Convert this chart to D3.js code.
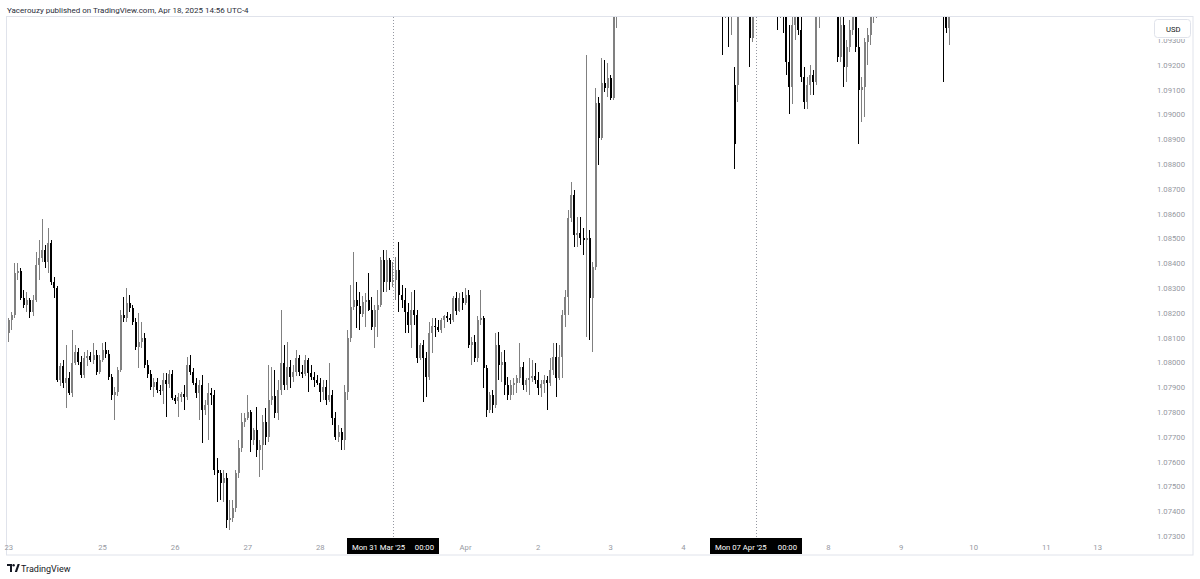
<!DOCTYPE html>
<html>
<head>
<meta charset="utf-8">
<script src="https://cdn.jsdelivr.net/npm/d3@7/dist/d3.min.js"></script>
<style>
  body { margin: 0; background: #fff; }
  svg { display: block; font-family: Roboto, "Liberation Sans", sans-serif; }
</style>
</head>
<body>
<svg id="chart"></svg>
<script>
// EURUSD 1h candles, Sun 23 Mar 17:00 onward (index = hourly bar, weekends removed)
const opens = [
  1.08119,1.08171,1.08191,1.08360,1.08368,1.08260,1.08231,1.08252,1.08203,1.08252,
  1.08393,1.08421,1.08453,1.08405,1.08481,1.08324,1.08300,1.07929,1.07985,1.07917,
  1.07937,1.07877,1.07998,1.08042,1.08002,1.07949,1.08018,1.08026,1.08010,1.08030,
  1.07961,1.08010,1.08050,1.08034,1.07941,1.07869,1.07881,1.07969,1.08191,1.08179,
  1.08239,1.08219,1.08163,1.08062,1.08082,1.08098,1.07989,1.07953,1.07901,1.07921,
  1.07889,1.07885,1.07929,1.07913,1.07953,1.07856,1.07844,1.07860,1.07873,1.07860,
  1.07989,1.07961,1.07917,1.07877,1.07909,1.07808,1.07828,1.07877,1.07869,1.07566,
  1.07554,1.07514,1.07534,1.07365,1.07373,1.07413,1.07554,1.07655,1.07760,1.07776,
  1.07800,1.07687,1.07727,1.07647,1.07667,1.07760,1.07699,1.07848,1.07864,1.07796,
  1.07889,1.07998,1.07909,1.07981,1.07941,1.07961,1.08018,1.07961,1.07953,1.08010,
  1.07957,1.07941,1.07929,1.07917,1.07881,1.07901,1.07848,1.07869,1.07776,1.07699,
  1.07719,1.07687,1.07881,1.08098,1.08223,1.08252,1.08227,1.08195,1.08243,1.08252,
  1.08211,1.08143,1.08211,1.08231,1.08413,1.08324,1.08413,1.08324,1.08332,1.08373,
  1.08272,1.08252,1.08203,1.08151,1.08211,1.08191,1.08018,1.08070,1.08018,1.07941,
  1.08119,1.08147,1.08143,1.08131,1.08171,1.08187,1.08179,1.08171,1.08260,1.08207,
  1.08260,1.08239,1.08272,1.08070,1.08082,1.08018,1.08171,1.08179,1.07977,1.07808,
  1.07869,1.07828,1.08070,1.07989,1.08002,1.07909,1.07869,1.07909,1.07917,1.07937,
  1.07981,1.07909,1.07929,1.07937,1.07945,1.07929,1.07897,1.07913,1.07929,1.07917,
  1.07969,1.08022,1.07937,1.08022,1.08191,1.08264,1.08582,1.08675,1.08514,1.08522,
  1.08502,1.08493,1.08500,1.08260,1.08385,1.09046,1.08905,1.09126,1.09106,1.09147,
  1.09066,1.09450,1.09700,1.10200,1.10450,1.10800,1.11100,1.10850,1.10700,1.10800,
  1.10750,1.10600,1.10700,1.10550,1.10400,1.10500,1.10600,1.10500,1.10480,1.10520,
  1.10550,1.10500,1.10460,1.10500,1.10450,1.10400,1.10450,1.10650,1.10800,1.10950,
  1.10700,1.10400,1.10200,1.10050,1.09900,1.09750,1.09600,1.09520,1.09580,1.09500,
  1.09120,1.09120,1.09800,1.10050,1.09950,1.09650,1.09310,1.09620,1.09750,1.09850,
  1.09800,1.09700,1.09750,1.09650,1.09550,1.09500,1.09550,1.09500,1.09210,1.09110,
  1.09360,1.09500,1.09340,1.09150,1.09050,1.09120,1.09160,1.09130,1.09450,1.09550,
  1.09650,1.09800,1.09700,1.09600,1.09500,1.09230,1.09360,1.09190,1.09270,1.09340,
  1.09450,1.09270,1.09100,1.09110,1.09290,1.09320,1.09400,1.09450,1.09500,1.09600,
  1.09680,1.09620,1.09550,1.09600,1.09700,1.09750,1.09800,1.09750,1.09650,1.09600,
  1.09550,1.09580,1.09620,1.09680,1.09720,1.09650,1.09580,1.09520,1.09580,1.09550,
  1.09500,1.09350
];
const highs = [
  1.08179,1.08203,1.08401,1.08401,1.08381,1.08292,1.08284,1.08260,1.08272,1.08445,
  1.08493,1.08578,1.08473,1.08542,1.08493,1.08344,1.08308,1.07998,1.08010,1.08070,
  1.07961,1.08131,1.08070,1.08058,1.08026,1.08042,1.08050,1.08042,1.08078,1.08050,
  1.08030,1.08078,1.08082,1.08050,1.07953,1.07901,1.07981,1.08211,1.08264,1.08300,
  1.08272,1.08231,1.08179,1.08199,1.08163,1.08119,1.08010,1.07969,1.07937,1.07937,
  1.07909,1.07957,1.07957,1.07969,1.07969,1.07869,1.07877,1.07881,1.07909,1.08022,
  1.08030,1.07977,1.07937,1.07929,1.07949,1.07848,1.07917,1.07897,1.07889,1.07614,
  1.07566,1.07566,1.07554,1.07445,1.07445,1.07566,1.07687,1.07796,1.07796,1.07869,
  1.07808,1.07735,1.07820,1.07687,1.07788,1.07816,1.07989,1.07981,1.07969,1.07929,
  1.08211,1.08070,1.08082,1.08010,1.07989,1.08050,1.08030,1.07989,1.08030,1.08018,
  1.07989,1.07961,1.07949,1.07937,1.07929,1.07929,1.07998,1.07889,1.07800,1.07748,
  1.07735,1.07909,1.08131,1.08312,1.08445,1.08324,1.08284,1.08268,1.08280,1.08360,
  1.08264,1.08231,1.08292,1.08425,1.08453,1.08453,1.08421,1.08405,1.08425,1.08485,
  1.08312,1.08300,1.08239,1.08284,1.08292,1.08211,1.08078,1.08090,1.08042,1.08163,
  1.08179,1.08179,1.08171,1.08179,1.08191,1.08203,1.08195,1.08268,1.08284,1.08280,
  1.08284,1.08300,1.08292,1.08102,1.08110,1.08187,1.08292,1.08187,1.07989,1.07881,
  1.07889,1.08119,1.08123,1.08042,1.08050,1.07941,1.07929,1.07937,1.07949,1.08078,
  1.08002,1.07937,1.08018,1.08010,1.07998,1.07961,1.07929,1.07949,1.07945,1.08018,
  1.08078,1.08078,1.08070,1.08211,1.08292,1.08614,1.08727,1.08695,1.08586,1.08586,
  1.08542,1.09239,1.08534,1.08405,1.09106,1.09070,1.09227,1.09219,1.09207,1.09159,
  1.09600,1.09750,1.10300,1.10600,1.10900,1.11440,1.11250,1.11000,1.10900,1.10950,
  1.10850,1.10750,1.10800,1.10650,1.10600,1.10700,1.10720,1.10600,1.10580,1.10600,
  1.10620,1.10580,1.10550,1.10600,1.10550,1.10500,1.10700,1.10900,1.11070,1.11000,
  1.10750,1.10500,1.10350,1.10150,1.10000,1.09900,1.09700,1.09650,1.09680,1.09620,
  1.09190,1.09900,1.10200,1.10300,1.10000,1.09750,1.09700,1.09850,1.09950,1.10000,
  1.09900,1.09850,1.09900,1.09750,1.09650,1.09600,1.09620,1.09580,1.09360,1.09450,
  1.09550,1.09550,1.09400,1.09190,1.09150,1.09200,1.09180,1.09500,1.09600,1.09750,
  1.09900,1.09950,1.09800,1.09700,1.09580,1.09450,1.09400,1.09300,1.09380,1.09500,
  1.09500,1.09350,1.09150,1.09310,1.09350,1.09450,1.09500,1.09550,1.09650,1.09750,
  1.09800,1.09720,1.09650,1.09750,1.09850,1.09900,1.09920,1.09850,1.09750,1.09700,
  1.09650,1.09680,1.09750,1.09800,1.09850,1.09750,1.09680,1.09620,1.09680,1.09620,
  1.09550,1.09480
];
const lows = [
  1.08082,1.08131,1.08179,1.08332,1.08252,1.08219,1.08203,1.08179,1.08187,1.08243,
  1.08332,1.08405,1.08381,1.08360,1.08312,1.08260,1.07921,1.07905,1.07897,1.07816,
  1.07869,1.07860,1.07989,1.07989,1.07937,1.07937,1.07985,1.08002,1.07994,1.07949,
  1.07953,1.08002,1.08018,1.07929,1.07848,1.07768,1.07864,1.07961,1.08163,1.08163,
  1.08203,1.08151,1.08050,1.07977,1.08058,1.07977,1.07937,1.07889,1.07860,1.07877,
  1.07869,1.07832,1.07780,1.07897,1.07848,1.07832,1.07780,1.07840,1.07808,1.07848,
  1.07949,1.07909,1.07856,1.07768,1.07675,1.07788,1.07687,1.07828,1.07546,1.07437,
  1.07445,1.07437,1.07332,1.07324,1.07356,1.07397,1.07534,1.07639,1.07739,1.07768,
  1.07639,1.07667,1.07619,1.07538,1.07566,1.07667,1.07679,1.07828,1.07776,1.07768,
  1.07869,1.07889,1.07889,1.07897,1.07921,1.07945,1.07945,1.07937,1.07945,1.07881,
  1.07929,1.07901,1.07909,1.07840,1.07848,1.07828,1.07840,1.07748,1.07687,1.07679,
  1.07647,1.07647,1.07848,1.08082,1.08211,1.08139,1.08131,1.08183,1.08143,1.08207,
  1.08131,1.08058,1.08102,1.08223,1.08284,1.08284,1.08292,1.08304,1.08252,1.08203,
  1.08219,1.08119,1.08119,1.08058,1.08151,1.07998,1.08010,1.07840,1.07860,1.07929,
  1.08038,1.08102,1.08123,1.08119,1.08139,1.08163,1.08155,1.08163,1.08191,1.08203,
  1.08211,1.08231,1.08058,1.07989,1.08002,1.08002,1.08151,1.07897,1.07780,1.07796,
  1.07796,1.07816,1.07929,1.07921,1.07869,1.07848,1.07848,1.07869,1.07877,1.07917,
  1.07889,1.07881,1.07869,1.07921,1.07913,1.07869,1.07860,1.07877,1.07808,1.07905,
  1.07949,1.07860,1.07929,1.07937,1.08143,1.08191,1.08566,1.08465,1.08465,1.08473,
  1.08433,1.08102,1.08090,1.08042,1.08373,1.08796,1.08897,1.09090,1.09070,1.09058,
  1.09058,1.09350,1.09650,1.10050,1.10400,1.10700,1.10750,1.10600,1.10500,1.10650,
  1.10550,1.10450,1.10500,1.10300,1.10250,1.10400,1.10450,1.10400,1.10400,1.10450,
  1.10480,1.10420,1.10400,1.10400,1.10350,1.10300,1.10400,1.10550,1.10700,1.10600,
  1.10300,1.10100,1.09950,1.09800,1.09650,1.09500,1.09240,1.09390,1.09270,1.09320,
  1.08780,1.09050,1.09700,1.09850,1.09550,1.09190,1.09290,1.09500,1.09600,1.09700,
  1.09600,1.09550,1.09600,1.09450,1.09340,1.09390,1.09330,1.09160,1.09000,1.09040,
  1.09300,1.09320,1.09130,1.09020,1.09020,1.09080,1.09080,1.09120,1.09350,1.09450,
  1.09550,1.09650,1.09500,1.09450,1.09210,1.09210,1.09110,1.09130,1.09250,1.09320,
  1.09250,1.08880,1.08970,1.08990,1.09200,1.09280,1.09370,1.09390,1.09420,1.09500,
  1.09550,1.09480,1.09450,1.09500,1.09600,1.09650,1.09680,1.09600,1.09520,1.09480,
  1.09450,1.09480,1.09520,1.09580,1.09620,1.09500,1.09460,1.09440,1.09480,1.09130,
  1.09330,1.09280
];
const closes = [
  1.08171,1.08191,1.08360,1.08368,1.08260,1.08231,1.08252,1.08203,1.08252,1.08393,
  1.08421,1.08453,1.08405,1.08481,1.08324,1.08300,1.07929,1.07985,1.07917,1.07937,
  1.07877,1.07998,1.08042,1.08002,1.07949,1.08018,1.08026,1.08010,1.08030,1.07961,
  1.08010,1.08050,1.08034,1.07941,1.07869,1.07881,1.07969,1.08191,1.08179,1.08239,
  1.08219,1.08163,1.08062,1.08082,1.08098,1.07989,1.07953,1.07901,1.07921,1.07889,
  1.07885,1.07929,1.07913,1.07953,1.07856,1.07844,1.07860,1.07873,1.07860,1.07989,
  1.07961,1.07917,1.07877,1.07909,1.07808,1.07828,1.07877,1.07869,1.07566,1.07554,
  1.07514,1.07534,1.07365,1.07373,1.07413,1.07554,1.07655,1.07760,1.07776,1.07800,
  1.07687,1.07727,1.07647,1.07667,1.07760,1.07699,1.07848,1.07864,1.07796,1.07889,
  1.07998,1.07909,1.07981,1.07941,1.07961,1.08018,1.07961,1.07953,1.08010,1.07957,
  1.07941,1.07929,1.07917,1.07881,1.07901,1.07848,1.07869,1.07776,1.07699,1.07719,
  1.07687,1.07881,1.08098,1.08223,1.08252,1.08227,1.08195,1.08243,1.08252,1.08211,
  1.08143,1.08211,1.08231,1.08413,1.08324,1.08413,1.08324,1.08332,1.08373,1.08272,
  1.08252,1.08203,1.08151,1.08211,1.08191,1.08018,1.08070,1.08018,1.07941,1.08119,
  1.08147,1.08143,1.08131,1.08171,1.08187,1.08179,1.08171,1.08260,1.08207,1.08260,
  1.08239,1.08272,1.08070,1.08082,1.08018,1.08171,1.08179,1.07977,1.07808,1.07869,
  1.07828,1.08070,1.07989,1.08002,1.07909,1.07869,1.07909,1.07917,1.07937,1.07981,
  1.07909,1.07929,1.07937,1.07945,1.07929,1.07897,1.07913,1.07929,1.07917,1.07969,
  1.08022,1.07937,1.08022,1.08191,1.08264,1.08582,1.08675,1.08514,1.08522,1.08502,
  1.08493,1.08500,1.08260,1.08385,1.09046,1.08905,1.09126,1.09106,1.09147,1.09066,
  1.09450,1.09700,1.10200,1.10450,1.10800,1.11100,1.10850,1.10700,1.10800,1.10750,
  1.10600,1.10700,1.10550,1.10400,1.10500,1.10600,1.10500,1.10480,1.10520,1.10550,
  1.10500,1.10460,1.10500,1.10450,1.10400,1.10450,1.10650,1.10800,1.10950,1.10700,
  1.10400,1.10200,1.10050,1.09900,1.09750,1.09600,1.09520,1.09580,1.09500,1.09580,
  1.08880,1.09800,1.10050,1.09950,1.09650,1.09310,1.09620,1.09750,1.09850,1.09800,
  1.09700,1.09750,1.09650,1.09550,1.09500,1.09550,1.09500,1.09210,1.09110,1.09360,
  1.09500,1.09340,1.09150,1.09050,1.09120,1.09160,1.09130,1.09450,1.09550,1.09650,
  1.09800,1.09700,1.09600,1.09500,1.09230,1.09360,1.09190,1.09270,1.09340,1.09450,
  1.09270,1.09100,1.09110,1.09290,1.09320,1.09400,1.09450,1.09500,1.09600,1.09680,
  1.09620,1.09550,1.09600,1.09700,1.09750,1.09800,1.09750,1.09650,1.09600,1.09550,
  1.09580,1.09620,1.09680,1.09720,1.09650,1.09580,1.09520,1.09580,1.09550,1.09500,
  1.09350,1.09450
];

// time axis: bar index of each day label
const dayTickIndex = [0, 31, 55, 79, 103, 151, 175, 199, 223, 271, 295, 319, 343, 360];
const dayTickLabels = ["23", "25", "26", "27", "28", "Apr", "2", "3", "4", "8", "9", "10", "11", "13"];
// highlighted session starts (dotted lines + black labels)
const markerIndex = [127, 247];
const markerDates = ["Mon 31 Mar '25", "Mon 07 Apr '25"];
const markerTimes = ["00:00", "00:00"];
// price scale labels
const priceTicks = [1.073, 1.074, 1.075, 1.076, 1.077, 1.078, 1.079, 1.080, 1.081, 1.082,
  1.083, 1.084, 1.085, 1.086, 1.087, 1.088, 1.089, 1.090, 1.091, 1.092, 1.093];

const width = 1200, height = 579;
const pane = { left: 7, right: 1147, top: 17, bottom: 540 };

const svg = d3.select("#chart").attr("width", width).attr("height", height);

const x = d3.scaleLinear().domain([-0.6, 376.3]).range([pane.left, pane.right]);
const y = d3.scaleLinear().domain([1.073, 1.092]).range([536, 64.8]);

// header
svg.append("text")
  .attr("x", 7).attr("y", 13)
  .attr("font-size", "8px").attr("fill", "#2a2e39")
  .text("Yacerouzy published on TradingView.com, Apr 18, 2025 14:56 UTC-4");

// outer frame
svg.append("rect")
  .attr("x", 6.5).attr("y", 16.5)
  .attr("width", 1193 - 6.5).attr("height", 555 - 16.5)
  .attr("fill", "none").attr("stroke", "#e0e3eb").attr("stroke-width", 1);

svg.append("defs").append("clipPath").attr("id", "pane-clip")
  .append("rect")
  .attr("x", pane.left).attr("y", pane.top)
  .attr("width", pane.right - pane.left).attr("height", pane.bottom - pane.top);

// dotted session lines
svg.append("g").selectAll("line")
  .data(markerIndex)
  .join("line")
  .attr("x1", d => Math.round(x(d)) + 0.5).attr("x2", d => Math.round(x(d)) + 0.5)
  .attr("y1", pane.top).attr("y2", pane.bottom)
  .attr("stroke", "#9598a1").attr("stroke-width", 1)
  .attr("stroke-dasharray", "1,2");

// candles
const idx = d3.range(opens.length);
const upColor = "#808080", downColor = "#000000";
const candles = svg.append("g")
  .attr("clip-path", "url(#pane-clip)")
  .attr("shape-rendering", "crispEdges");

candles.selectAll("rect.wick")
  .data(idx)
  .join("rect")
  .attr("class", "wick")
  .attr("x", i => Math.round(x(i) - 0.5))
  .attr("width", 1)
  .attr("y", i => y(highs[i]))
  .attr("height", i => Math.max(1, y(lows[i]) - y(highs[i])))
  .attr("fill", i => closes[i] >= opens[i] ? upColor : downColor);

candles.selectAll("rect.body")
  .data(idx)
  .join("rect")
  .attr("class", "body")
  .attr("x", i => Math.round(x(i) - 1))
  .attr("width", 2)
  .attr("y", i => y(Math.max(opens[i], closes[i])))
  .attr("height", i => Math.max(1, Math.abs(y(opens[i]) - y(closes[i]))))
  .attr("fill", i => closes[i] >= opens[i] ? upColor : downColor);

// price axis
const yAxis = d3.axisRight(y)
  .tickValues(priceTicks)
  .tickFormat(d3.format(".5f"))
  .tickSize(0)
  .tickPadding(0);

const yAxisG = svg.append("g")
  .attr("transform", `translate(1157,0)`)
  .call(yAxis);
yAxisG.select(".domain").remove();
yAxisG.selectAll("text")
  .attr("font-size", "7.7px")
  .attr("font-family", "Roboto, sans-serif")
  .attr("fill", "#9598a1");

// USD box (its white backing hides the top of the 1.09300 label)
const usd = svg.append("g");
usd.append("rect")
  .attr("x", 1150).attr("y", 18).attr("width", 42).attr("height", 21)
  .attr("fill", "#fff");
usd.append("rect")
  .attr("x", 1154.5).attr("y", 19.5).attr("width", 36).attr("height", 18)
  .attr("rx", 3).attr("fill", "#fff").attr("stroke", "#e0e3eb");
usd.append("text")
  .attr("x", 1166).attr("y", 31.5)
  .attr("font-size", "7.7px").attr("fill", "#131722")
  .text("USD");

// time axis labels
svg.append("g").selectAll("text")
  .data(dayTickIndex)
  .join("text")
  .attr("x", d => x(d))
  .attr("y", 550)
  .attr("text-anchor", "middle")
  .attr("font-size", "7.7px")
  .attr("fill", "#9598a1")
  .text((d, k) => dayTickLabels[k]);

// highlighted time labels
const marks = svg.append("g").selectAll("g")
  .data(markerIndex)
  .join("g")
  .attr("transform", d => `translate(${Math.round(x(d))},0)`);
marks.append("rect")
  .attr("x", -46).attr("y", 538).attr("width", 92).attr("height", 16)
  .attr("fill", "#000");
marks.append("text")
  .attr("x", -41).attr("y", 549.5)
  .attr("font-size", "7.7px").attr("fill", "#fff")
  .text((d, k) => markerDates[k]);
marks.append("text")
  .attr("x", 41).attr("y", 549.5)
  .attr("text-anchor", "end")
  .attr("font-size", "7.7px").attr("fill", "#fff")
  .text((d, k) => markerTimes[k]);

// TradingView logo
const logo = svg.append("g").attr("transform", "translate(7,564)");
logo.append("path")
  .attr("d", "M0,0 H5 V8 H3 V2 H0 Z")
  .attr("fill", "#131722");
logo.append("circle").attr("cx", 6.6).attr("cy", 1.2).attr("r", 1.2).attr("fill", "#131722");
logo.append("path")
  .attr("d", "M7.8,8 L10.6,0 H12.8 L10,8 Z")
  .attr("fill", "#131722");
logo.append("text")
  .attr("x", 14).attr("y", 7.8)
  .attr("font-size", "9px").attr("fill", "#131722")
  .text("TradingView");
</script>
</body>
</html>
